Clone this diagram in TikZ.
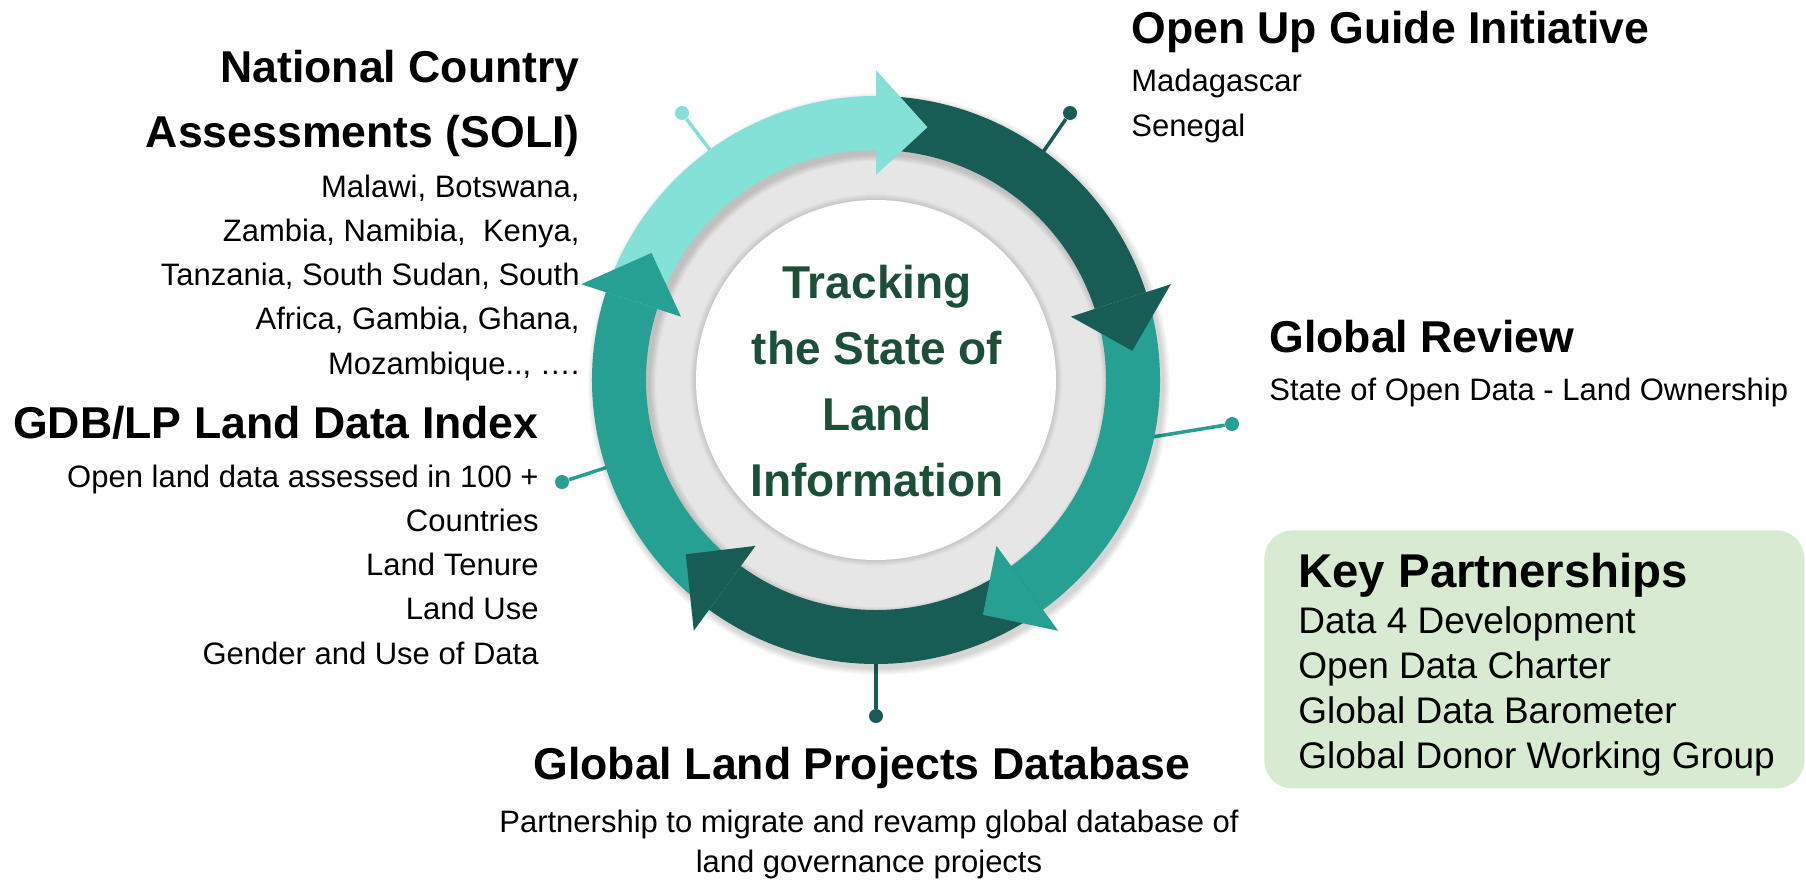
\documentclass[tikz,border=0pt]{standalone}
\usepackage{fontspec}
\setmainfont{Liberation Sans}
\definecolor{lightT}{HTML}{84E1D7}
\definecolor{darkT}{HTML}{175C55}
\definecolor{midT}{HTML}{26A092}
\definecolor{ringgray}{HTML}{E6E6E6}
\definecolor{trackgreen}{HTML}{1B4F38}
\definecolor{keygreen}{HTML}{D9EAD3}
\tikzset{
  heading/.style={font=\fontsize{22.3}{32.5}\selectfont\bfseries, inner sep=0pt},
  bodytext/.style={font=\fontsize{15.5}{22.1}\selectfont, inner sep=0pt},
  pindot/.style={circle, fill=#1, minimum size=7pt, inner sep=0pt},
  pinline/.style={#1, line width=1.75pt},
}
\begin{document}
\begin{tikzpicture}[x=0.5pt,y=-0.5pt]
	\useasboundingbox (0,0) rectangle (1806,879);
	\fill[white] (0,0) rectangle (1806,879);
	\begin{scope}[shift={(876,380)},yscale=-1]
		% pins
		\coordinate (pSoli) at (-160,222);
		\coordinate (pOpen) at (163,222);
		\coordinate (pGlob) at (270,-58);
		\coordinate (pProj) at (0,-275);
		\coordinate (pGdb) at (-262,-85);
		\node[pindot=lightT] (dSoli) at (-194,267) {};
		\node[pindot=darkT] (dOpen) at (194,267) {};
		\node[pindot=midT] (dGlob) at (356,-44) {};
		\node[pindot=darkT] (dProj) at (0,-336) {};
		\node[pindot=midT] (dGdb) at (-314,-102) {};
		\draw[pinline=lightT] (pSoli) -- (dSoli);
		\draw[pinline=darkT] (pOpen) -- (dOpen);
		\draw[pinline=midT] (pGlob) -- (dGlob);
		\draw[pinline=darkT] (pProj) -- (dProj);
		\draw[pinline=midT] (pGdb) -- (dGdb);
		% ring
		\fill[ringgray] (0,0) circle (232);
		\foreach \k in {0,...,5}
			\fill[black, opacity=0.02] (0,0) circle (181+\k);
		\fill[white] (0,0) circle (180);
		\foreach \k in {0,...,6}
			\fill[black, opacity=0.025, even odd rule] (3,-4) circle (285+\k) (3,-4) circle (229-\k);
		\foreach \a/\c in {90/lightT,18/darkT,-54/midT,-126/darkT,-198/midT}
			\fill[\c] ({\a+72}:284) arc[start angle=\a+72, end angle=\a, radius=284] -- (\a:230) arc[start angle=\a, end angle=\a+72, radius=230] -- cycle;
		\foreach \a/\c in {90/lightT,18/darkT,-54/midT,-126/darkT,-198/midT}
			\fill[\c] (\a:205) -- (\a:310) -- ({\a-11.5}:258) -- cycle;
	\end{scope}
	\node[font=\fontsize{23}{33}\selectfont\bfseries, text=trackgreen, align=center, anchor=base, inner sep=0pt] (track) at (877,496) {Tracking\\the State of\\Land\\Information};
	% labels
	\node[heading, align=right, anchor=base east] (soliT) at (580,147) {National Country\\Assessments (SOLI)};
	\node[bodytext, align=right, anchor=base east] (soliB) at (580,374) {Malawi, Botswana,\\Zambia, Namibia,\ \ Kenya,\\Tanzania, South Sudan, South\\Africa, Gambia, Ghana,\\Mozambique.., ….};
	\node[heading, anchor=base east] (gdbT) at (539,438) {GDB/LP Land Data Index};
	\node[bodytext, align=right, anchor=base east] (gdbB) at (539,664) {Open land data assessed in 100 +\\Countries\\Land Tenure\\Land Use\\Gender and Use of Data};
	\node[heading, anchor=base west] (openT) at (1131,43) {Open Up Guide Initiative};
	\node[bodytext, align=left, anchor=base west] (openB) at (1131,136) {Madagascar\\Senegal};
	\node[heading, anchor=base west] (globT) at (1269,352) {Global Review};
	\node[bodytext, anchor=base west] (globB) at (1269,400) {State of Open Data - Land Ownership};
	\node[heading, anchor=base] (projT) at (862,779) {Global Land Projects Database};
	\node[bodytext, font=\fontsize{15.5}{20}\selectfont, align=center, anchor=base] (projB) at (869,872) {Partnership to migrate and revamp global database of\\land governance projects};
	% partnerships
	\node[fill=keygreen, rounded corners=14pt, minimum width=270pt, minimum height=129pt, anchor=north west, inner sep=0pt] (key) at (1264,530) {};
	\node[font=\fontsize{23.7}{30}\selectfont\bfseries, anchor=base west, inner sep=0pt] (keyT) at (1298,587) {Key Partnerships};
	\node[font=\fontsize{18.5}{22.5}\selectfont, align=left, anchor=base west, inner sep=0pt] (keyB) at (1298,768) {Data 4 Development\\Open Data Charter\\Global Data Barometer\\Global Donor Working Group};
\end{tikzpicture}
\end{document}
